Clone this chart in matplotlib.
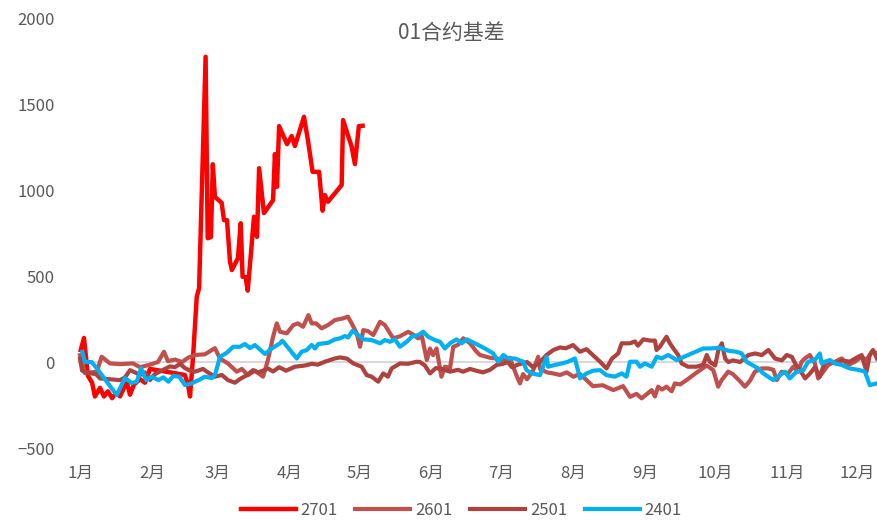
import matplotlib
matplotlib.use("Agg")
import matplotlib.pyplot as plt

plt.rcParams['font.family'] = ['Liberation Sans Narrow', 'Noto Sans CJK SC', 'DejaVu Sans']

# x = day of year (0 = 1月1日), y = 基差
days_2701 = [0.3, 1.7, 3.4, 5.2, 6.4, 8.6, 10.3, 12.0, 13.8, 15.5, 17.2, 18.9, 20.2, 21.5, 23.2,
             25.8, 27.9, 30.1, 34.4, 38.7, 43.0, 45.1, 46.4, 47.3, 48.6, 50.2, 51.2, 54.0, 54.9,
             56.3, 57.1, 58.0, 60.9, 61.9, 63.2, 64.5, 65.3, 67.9, 69.1, 69.9, 71.2, 72.1, 73.5,
             74.8, 76.1, 77.0, 79.1, 83.0, 83.8, 84.7, 85.6, 89.0, 91.0, 92.4, 96.3, 98.0, 100.0,
             102.8, 104.3, 105.3, 106.6, 112.5, 113.1, 116.8, 118.2, 119.9, 121.5]
vals_2701 = [70, 140, -80, -120, -200, -150, -200, -170, -210, -180, -200, -150, -120, -190, -130,
             -100, -120, -40, -50, -60, -70, -75, -130, -200, 30, 380, 430, 1775, 720,
             727, 1150, 960, 926, 825, 825, 583, 535, 604, 807, 496, 494, 415, 633,
             845, 728, 1127, 866, 941, 1209, 1019, 1372, 1267, 1314, 1256, 1426, 1290, 1106,
             1106, 880, 971, 932, 1029, 1407, 1252, 1151, 1372, 1374]

days_2601 = [0, 2.1, 7.2, 9.3, 12.9, 17.2, 22.8, 25.8, 30.1, 33.5, 36.1, 37.8, 40.8, 43.9, 46.4,
             49.4, 53.7, 58.0, 60.2, 63.6, 67.4, 69.6, 72.2, 75.2, 78.7, 80.8, 83.0, 84.6, 86.0,
             88.9, 91.7, 93.7, 95.9, 98.2, 99.6, 101.5, 103.9, 106.6, 109.6, 113.1, 115.2, 117.0,
             119.0, 120.4, 121.8, 123.8, 126.1, 129.0, 131.1, 133.3, 134.7, 137.6, 141.1, 143.2,
             145.4, 147.0, 149.1, 150.5, 151.8, 153.3, 155.4, 156.9, 159.1, 160.5, 162.5, 164.8,
             167.7, 170.5, 172.0, 176.3, 179.3, 181.3, 184.8, 187.9, 189.2, 190.5, 192.2, 194.8,
             197.0, 197.8, 200.8, 203.4, 206.4, 209.3, 212.1, 215.0, 217.8, 220.5, 224.8, 229.3,
             233.5, 236.5, 239.3, 241.5, 243.4, 245.8, 247.2, 248.6, 250.2, 252.2, 254.4, 255.8,
             258.0, 260.8, 263.7, 266.6, 269.5, 272.3, 274.4, 275.9, 278.7, 280.7, 283.7, 285.9,
             288.0, 290.2, 293.1, 295.9, 298.1, 299.6, 301.7, 304.5, 306.7, 308.8, 310.3, 311.7,
             313.8, 316.0, 317.4, 319.6, 321.7, 324.6, 327.5, 330.3, 333.2, 336.1, 338.2, 340.5,
             342.7]
vals_2601 = [40, -64, -56, 31, -8, -12, -8, -30, -15, 0, 60, 5, 15, 0, 25,
             41, 45, 81, 20, -8, -56, -40, -76, -50, -85, 12, 147, 225, 176,
             167, 215, 225, 205, 273, 225, 225, 196, 215, 244, 254, 264, 220,
             167, 89, 186, 180, 157, 234, 215, 167, 138, 150, 176, 160,
             138, 150, 12, 79, 40, 79, -85, -27, -35, 89, 100, 138,
             109, 60, 41, 25, 20, 12, 25, -85, -124, -70, -100, -50,
             31, -40, -60, -66, -75, -60, -85, -70, -105, -140, -135, -163,
             -140, -202, -185, -211, -190, -163, -200, -143, -160, -143, -170, -124,
             -130, -105, -75, -47, -20, -47, -143, -105, -56, -70, -110, -143,
             -110, -56, -37, -37, -45, -105, -56, -66, -27, -56, 2, 21,
             41, -8, -95, -56, -17, 2, 21, -17, 2, 31, 12, 60,
             50]

days_2501 = [0, 0.9, 3.4, 6.9, 8.6, 12.9, 17.2, 19.3, 21.5, 23.6, 25.8, 27.9, 30.1, 32.2, 34.4,
             36.5, 38.7, 40.8, 43.0, 45.1, 47.3, 49.4, 52.9, 55.0, 58.0, 61.0, 63.6, 66.6, 69.2,
             71.8, 74.4, 76.5, 78.7, 80.8, 83.0, 85.6, 88.6, 92.4, 96.7, 99.7, 102.3, 105.3, 107.5,
             109.6, 111.8, 114.8, 117.5, 121.1, 123.3, 125.4, 128.2, 130.4, 132.4, 134.0, 137.6,
             141.0, 144.8, 146.2, 148.3, 150.5, 153.0, 155.6, 159.1, 162.5, 164.7, 167.7, 170.3,
             173.3, 176.3, 179.1, 181.9, 184.0, 185.7, 188.3, 192.2, 194.8, 197.8, 200.6, 203.5,
             206.4, 208.9, 212.0, 215.0, 217.8, 220.5, 223.6, 226.4, 228.7, 231.4, 232.9, 236.5,
             238.6, 239.9, 242.2, 245.1, 247.2, 247.9, 249.4, 250.8, 252.2, 253.6, 255.1, 257.2,
             258.7, 261.4, 265.1, 268.0, 269.5, 270.9, 273.1, 274.5, 276.0, 277.4, 278.8, 280.8,
             283.8, 287.4, 290.3, 293.2, 296.0, 298.9, 301.8, 303.9, 306.1, 307.5, 309.6, 311.8,
             313.9, 316.0, 318.1, 320.3, 323.2, 325.3, 327.5, 331.0, 333.2, 336.1, 338.2, 339.6,
             341.0, 342.7]
vals_2501 = [20, -50, -64, -70, -95, -100, -105, -90, -47, -60, -75, -60, -105, -70, -55,
             -40, -25, -30, -10, -35, -50, -56, -40, -60, -85, -75, -105, -120, -95,
             -76, -47, -60, -50, -37, -55, -30, -50, -27, -20, -10, -15, 2, 12,
             21, 27, 20, -8, -27, -76, -85, -114, -66, -85, -37, -8,
             -10, 2, 0, -20, -66, -35, -40, -56, -45, -56, -40, -50,
             -60, -45, -17, -10, 0, -30, -15, 0, -30, 0, 41, 70,
             85, 80, 99, 60, 75, 41, 2, -37, 20, 50, 109, 109,
             120, 95, 132, 125, 125, 70, 90, 120, 147, 110, 80, 41,
             -8, -27, -27, -15, 41, 0, -20, 70, 109, 20, 0, 10,
             0, 41, 50, 41, 70, 20, 10, 41, 30, -8, -47, -95,
             -66, -30, -85, 2, 2, -8, 10, 2, 20, 41, -56, 41,
             70, 20]

days_2401 = [1.0, 2.1, 5.0, 7.2, 15.8, 19.3, 22.2, 24.4, 26.2, 28.4, 30.8, 33.7, 35.8, 38.0, 40.1,
             42.7, 45.1, 48.0, 51.6, 53.7, 56.6, 58.0, 60.2, 63.1, 65.9, 68.8, 70.9, 73.1, 75.2,
             79.5, 82.4, 86.0, 87.0, 90.3, 93.2, 95.3, 97.5, 99.6, 101.0, 102.5, 106.7, 109.6,
             111.8, 113.9, 115.3, 117.2, 119.6, 121.8, 125.4, 129.0, 131.1, 133.3, 135.4, 137.6,
             140.5, 142.6, 145.4, 147.6, 149.7, 152.6, 154.8, 156.9, 159.1, 161.9, 164.1, 166.3,
             169.8, 174.1, 177.7, 179.8, 182.0, 184.1, 187.0, 190.6, 192.0, 194.2, 197.8, 200.6,
             201.3, 204.2, 207.1, 209.9, 212.8, 215.0, 217.8, 220.7, 223.6, 226.4, 230.0, 232.9,
             235.0, 236.5, 239.3, 240.8, 242.9, 245.8, 248.0, 250.1, 252.9, 256.5, 263.0, 268.0,
             270.9, 275.1, 278.7, 282.3, 284.5, 286.6, 291.6, 293.8, 298.1, 301.0, 303.1, 305.2,
             308.1, 311.0, 313.1, 316.0, 318.1, 318.9, 322.4, 324.6, 327.5, 331.0, 335.3, 337.5,
             339.6, 342.7]
vals_2401 = [60, 0, 0, -36, -192, -93, -122, -114, -36, -105, -85, -105, -89, -114, -81,
             -85, -134, -124, -101, -85, -93, -76, 31, 54, 89, 89, 105, 81, 99,
             47, 79, 109, 124, 70, 21, 60, 70, 99, 79, 105, 112, 132,
             138, 151, 143, 182, 157, 132, 128, 109, 128, 118, 132, 89,
             118, 147, 157, 176, 147, 128, 118, 79, 109, 132, 109, 132,
             109, 79, 50, 2, 41, 21, 21, 2, -47, -66, -76, 31,
             -27, -17, -8, 2, 21, -95, -66, -50, -47, -76, -85, -66,
             -85, 2, 2, -27, -8, -27, 31, 21, 41, 12, 50, 79,
             79, 83, 66, 60, 50, 2, -37, -66, -105, -76, -56, -95,
             -56, -47, 2, 12, 50, -8, 12, -8, -17, -37, -47, -56,
             -134, -124]

month_starts = [0, 31, 59, 90, 120, 151, 181, 212, 243, 273, 304, 334]
month_labels = ['%d月' % m for m in range(1, 13)]

fig = plt.figure(figsize=(8.77, 5.21), dpi=100)
ax = fig.add_axes([0.0878, 0.140, 0.9122, 0.8253])

ax.axhline(0, color='#D9D9D9', lw=1.5, zorder=0)
ax.plot(days_2701, vals_2701, color='#FF0000', lw=3.2, label='2701', solid_joinstyle='round')
ax.plot(days_2601, vals_2601, color='#C0504D', lw=3.0, label='2601', solid_joinstyle='round')
ax.plot(days_2501, vals_2501, color='#AD423F', lw=3.0, label='2501', solid_joinstyle='round')
ax.plot(days_2401, vals_2401, color='#00B0F0', lw=3.0, label='2401', solid_joinstyle='round')

ax.set_xlim(-1.3, 342.7)
ax.set_ylim(-500, 2000)
ax.set_yticks([-500, 0, 500, 1000, 1500, 2000])
ax.set_xticks(month_starts)
ax.set_xticklabels(month_labels)
ax.tick_params(axis='both', length=0, labelsize=12, colors='#595959')
ax.tick_params(axis='y', pad=16)
ax.tick_params(axis='x', pad=12)
for s in ax.spines.values():
    s.set_visible(False)

fig.text(0.515, 0.937, '01合约基差', ha='center', va='center', fontsize=15, color='#595959')

fig.legend(loc='center', bbox_to_anchor=(0.526, 0.02), ncol=4, frameon=False,
           fontsize=12, labelcolor='#595959', handlelength=3.3, columnspacing=1.05,
           handletextpad=0.3)

fig.savefig('out.png', dpi=100)
